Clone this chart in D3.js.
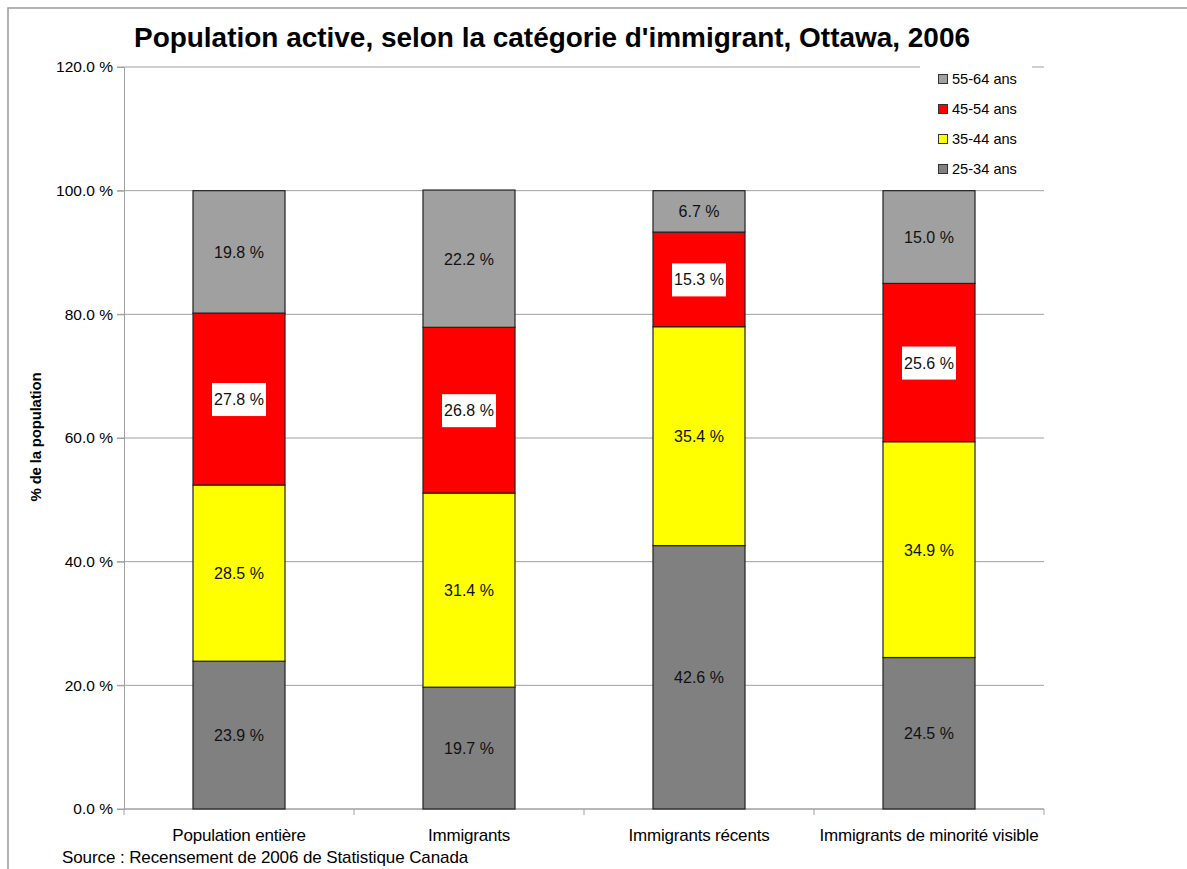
<!DOCTYPE html>
<html>
<head>
<meta charset="utf-8">
<script src="https://cdn.jsdelivr.net/npm/d3@7"></script>
<style>
  html, body { margin: 0; padding: 0; background: #fff; }
  svg { display: block; font-family: "Liberation Sans", Arial, sans-serif; }
</style>
</head>
<body>
<svg id="chart" width="1187" height="869"></svg>
<script>
// Labour force by immigrant category and age group, Ottawa 2006
const categories = ["Population entière", "Immigrants", "Immigrants récents", "Immigrants de minorité visible"];
const ageGroups = ["25-34 ans", "35-44 ans", "45-54 ans", "55-64 ans"];
const age25_34 = [23.9, 19.7, 42.6, 24.5];
const age35_44 = [28.5, 31.4, 35.4, 34.9];
const age45_54 = [27.8, 26.8, 15.3, 25.6];
const age55_64 = [19.8, 22.2, 6.7, 15.0];
const yTicks = [0, 20, 40, 60, 80, 100, 120];
const colors = ["#808080", "#ffff00", "#ff0000", "#a0a0a0"];

const svg = d3.select("#chart");
const W = 1187, H = 869;
const margin = { left: 124, right: 143, top: 67, bottom: 60 };
const plotW = W - margin.left - margin.right;
const plotH = H - margin.top - margin.bottom;

// outer frame
svg.append("rect")
  .attr("x", 8).attr("y", 8)
  .attr("width", W + 20).attr("height", H + 20)
  .attr("fill", "none").attr("stroke", "#a0a0a0").attr("stroke-width", 1.6);

// title
svg.append("text")
  .attr("x", 552).attr("y", 47)
  .attr("text-anchor", "middle")
  .attr("font-size", 28).attr("font-weight", "bold")
  .attr("textLength", 836).attr("lengthAdjust", "spacingAndGlyphs")
  .attr("fill", "#000")
  .text("Population active, selon la catégorie d'immigrant, Ottawa, 2006");

const g = svg.append("g").attr("transform", `translate(${margin.left},${margin.top})`);

const x = d3.scaleBand().domain(categories).range([0, plotW]).paddingInner(0.6).paddingOuter(0.3);
const xOuter = d3.scaleBand().domain(categories).range([0, plotW]);
const y = d3.scaleLinear().domain([0, 120]).range([plotH, 0]);

// gridlines
g.append("g").selectAll("line").data(yTicks).join("line")
  .attr("x1", -7).attr("x2", plotW)
  .attr("y1", d => y(d)).attr("y2", d => y(d))
  .attr("stroke", "#a0a0a0").attr("stroke-width", 1);

// y axis
const yAxis = d3.axisLeft(y).tickValues(yTicks).tickSize(7).tickPadding(4)
  .tickFormat(d => d3.format(".1f")(d) + " %");
const ya = g.append("g").call(yAxis);
ya.select(".domain").attr("stroke", "#a0a0a0");
ya.selectAll(".tick line").attr("stroke", "#a0a0a0");
ya.selectAll("text").attr("font-size", 15.5).attr("fill", "#000")
  .attr("font-family", "Liberation Sans, Arial, sans-serif");

// x axis (ticks at category boundaries)
const xa = g.append("g").attr("transform", `translate(0,${plotH})`);
xa.append("line").attr("x1", 0).attr("x2", plotW).attr("stroke", "#a0a0a0");
const bounds = [0].concat(categories.map(c => xOuter(c) + xOuter.bandwidth()));
xa.selectAll("line.tk").data(bounds).join("line").attr("class", "tk")
  .attr("x1", d => d).attr("x2", d => d).attr("y1", 0).attr("y2", 6)
  .attr("stroke", "#a0a0a0");
xa.selectAll("text").data(categories).join("text")
  .attr("x", d => xOuter(d) + xOuter.bandwidth() / 2)
  .attr("y", 32)
  .attr("text-anchor", "middle")
  .attr("font-size", 17).attr("letter-spacing", -0.2).attr("fill", "#000")
  .text(d => d);

// stacked bars
const rows = categories.map((c, i) => ({
  cat: c,
  "25-34 ans": age25_34[i], "35-44 ans": age35_44[i],
  "45-54 ans": age45_54[i], "55-64 ans": age55_64[i]
}));
const series = d3.stack().keys(ageGroups)(rows);

const layers = g.append("g").selectAll("g").data(series).join("g")
  .attr("fill", (d, i) => colors[i]);
layers.selectAll("rect").data(d => d).join("rect")
  .attr("x", d => x(d.data.cat))
  .attr("width", x.bandwidth())
  .attr("y", d => y(d[1]))
  .attr("height", d => y(d[0]) - y(d[1]))
  .attr("stroke", "#222").attr("stroke-width", 1.2);

// value labels
series.forEach((s, si) => {
  s.forEach(d => {
    const v = d[1] - d[0];
    const cx = x(d.data.cat) + x.bandwidth() / 2;
    const cy = y((d[0] + d[1]) / 2);
    const txt = d3.format(".1f")(v) + " %";
    if (ageGroups[si] === "45-54 ans") {
      g.append("rect")
        .attr("x", cx - 27).attr("y", cy - 16)
        .attr("width", 54).attr("height", 33)
        .attr("fill", "#fff");
    }
    g.append("text")
      .attr("x", cx).attr("y", cy + 6)
      .attr("text-anchor", "middle")
      .attr("font-size", 16).attr("fill", "#111")
      .text(txt);
  });
});

// y axis title
svg.append("text")
  .attr("transform", `translate(41,437) rotate(-90)`)
  .attr("text-anchor", "middle")
  .attr("font-size", 15).attr("font-weight", "bold").attr("letter-spacing", -0.2)
  .attr("fill", "#000")
  .text("% de la population");

// legend
const legend = svg.append("g");
legend.append("rect")
  .attr("x", 920).attr("y", 62).attr("width", 112).attr("height", 122)
  .attr("fill", "#fff");
const legendOrder = ageGroups.slice().reverse();
legendOrder.forEach((k, i) => {
  const ly = 79 + i * 30;
  legend.append("rect")
    .attr("x", 938.5).attr("y", ly - 4.5).attr("width", 9).attr("height", 9)
    .attr("fill", colors[ageGroups.indexOf(k)]).attr("stroke", "#333").attr("stroke-width", 1);
  legend.append("text")
    .attr("x", 952).attr("y", ly + 5)
    .attr("font-size", 14.6).attr("fill", "#000")
    .text(k);
});

// source note
svg.append("text")
  .attr("x", 62).attr("y", 863)
  .attr("font-size", 17).attr("letter-spacing", -0.1).attr("fill", "#000")
  .text("Source : Recensement de 2006 de Statistique Canada");
</script>
</body>
</html>
